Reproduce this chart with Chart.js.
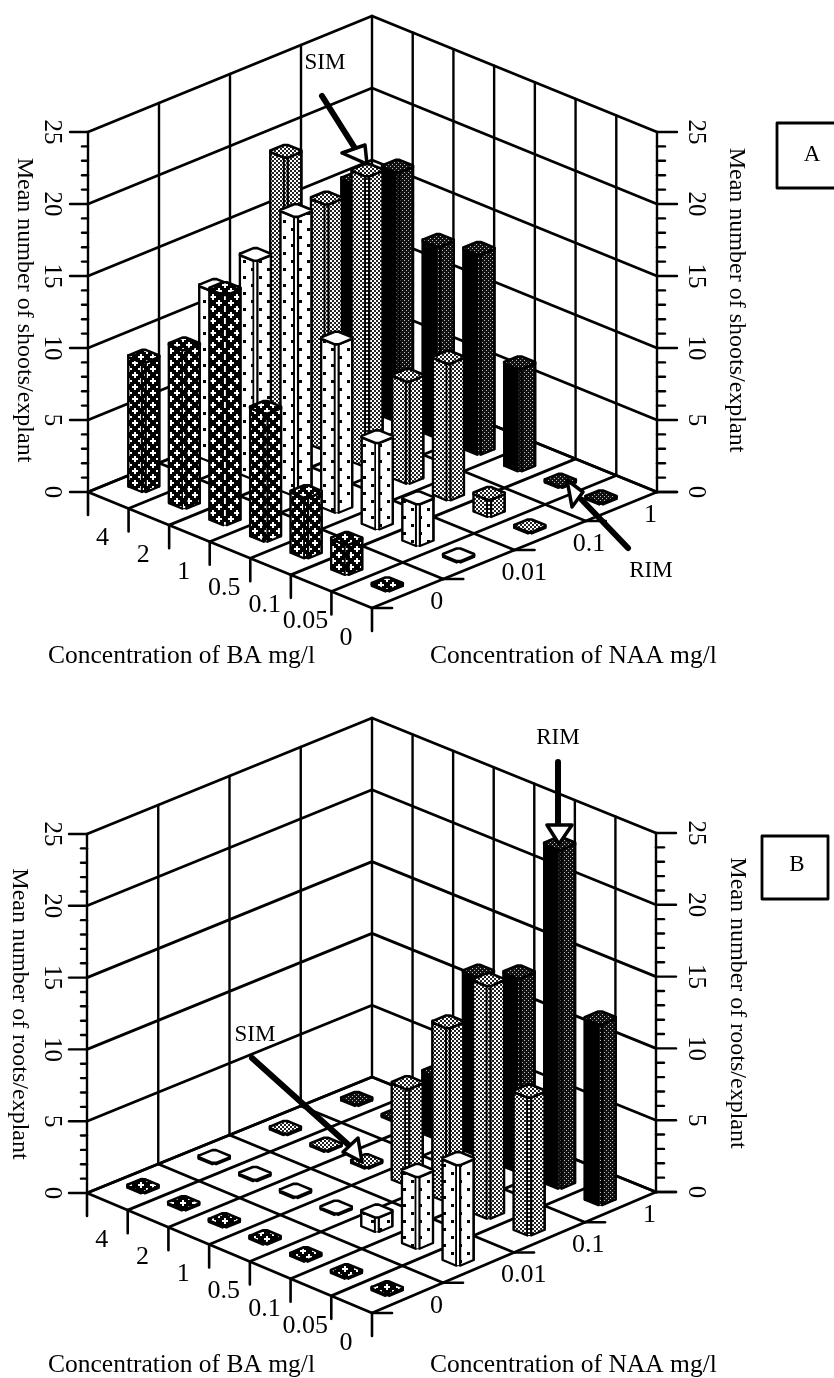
<!DOCTYPE html>
<html>
<head>
<meta charset="utf-8">
<title>Mean number of shoots and roots</title>
<script src="https://cdn.jsdelivr.net/npm/chart.js@4/dist/chart.umd.min.js"></script>
<style>
html, body { margin: 0; padding: 0; background: #fff; }
canvas { display: block; }
</style>
</head>
<body>
<canvas id="chart" width="834" height="1378"></canvas>
<script>
// categories
const baLabels = ['4', '2', '1', '0.5', '0.1', '0.05', '0'];
const naaLabels = ['0', '0.01', '0.1', '1'];
const valueTicks = [0, 5, 10, 15, 20, 25];

// panel A, shoots per explant, one array per NAA level, in baLabels order
const shootsNaa0 = [9, 11, 16, 8.9, 4.2, 2.1, 0.1];
const shootsNaa001 = [11.9, 15.2, 19.4, 11.7, 6, 2.9, 0.1];
const shootsNaa01 = [19.2, 17.1, 20.2, 7.1, 9.5, 1.2, 0.1];
const shootsNaa1 = [15.3, 17.3, 13.3, 13.9, 7.1, 0.1, 0.1];

// panel B, roots per explant
const rootsNaa0 = [0.1, 0.1, 0.1, 0.1, 0.1, 0.1, 0.1];
const rootsNaa001 = [0.1, 0.1, 0.1, 0.1, 1, 5, 7];
const rootsNaa01 = [0.1, 0.1, 0.1, 6.7, 12.1, 16.2, 9.6];
const rootsNaa1 = [0.1, 0.1, 4.3, 12.4, 13.5, 23.6, 12.6];

const FONT = '"Liberation Serif", serif';

const panels = [
    {
        name: 'A',
        rows: [shootsNaa0, shootsNaa001, shootsNaa01, shootsNaa1],
        yLabel: 'Mean number of shoots/explant',
        left: [88, 492], front: [372, 608], right: [657, 492], back: [372, 376],
        wall: 360,
        titleY: 656,
        yLabelLeft: [24, 310], yLabelRight: [736, 300],
        box: [777, 123, 62, 65], boxText: [812, 155],
        notes: [
            { text: 'SIM', at: [325, 63], shaft: [[322, 96], [358, 153]], head: [[342, 153], [365, 145], [367, 164]] },
            { text: 'RIM', at: [651, 571], shaft: [[628, 548], [582, 500]], head: [[567, 480], [583, 492], [572, 507]] }
        ]
    },
    {
        name: 'B',
        rows: [rootsNaa0, rootsNaa001, rootsNaa01, rootsNaa1],
        yLabel: 'Mean number of roots/explant',
        left: [87, 1193], front: [372, 1313], right: [656, 1192], back: [372, 1077],
        wall: 359,
        titleY: 1365,
        yLabelLeft: [19, 1014], yLabelRight: [737, 1003],
        box: [762, 836, 66, 63], boxText: [797, 865],
        notes: [
            { text: 'RIM', at: [558, 738], shaft: [[558, 762], [558, 826]], head: [[547, 825], [572, 825], [559, 844]] },
            { text: 'SIM', at: [255, 1035], shaft: [[252, 1058], [352, 1148]], head: [[343, 1152], [358, 1138], [362, 1162]] }
        ]
    }
];

function tile(w, h, paint) {
    const c = document.createElement('canvas');
    c.width = w;
    c.height = h;
    paint(c.getContext('2d'));
    return document.getElementById('chart').getContext('2d').createPattern(c, 'repeat');
}

function dotsAt(ctx, color, list, size) {
    ctx.fillStyle = color;
    list.forEach(p => ctx.fillRect(p[0], p[1], size, size));
}

const crossFill = tile(12, 12, ctx => {
    ctx.fillStyle = '#000';
    ctx.fillRect(0, 0, 12, 12);
    ctx.fillStyle = '#fff';
    [[3, 3], [9, 9]].forEach(p => {
        ctx.fillRect(p[0] - 3, p[1] - 1, 6, 2);
        ctx.fillRect(p[0] - 1, p[1] - 3, 2, 6);
    });
});
const dotFill = tile(16, 16, ctx => {
    ctx.fillStyle = '#fff';
    ctx.fillRect(0, 0, 16, 16);
    dotsAt(ctx, '#000', [[3, 4], [11, 12]], 3);
});
const stippleFill = tile(4, 4, ctx => {
    ctx.fillStyle = '#fff';
    ctx.fillRect(0, 0, 4, 4);
    dotsAt(ctx, '#222', [[0, 0], [2, 2]], 2);
});
const darkFill = tile(4, 4, ctx => {
    ctx.fillStyle = '#111';
    ctx.fillRect(0, 0, 4, 4);
    dotsAt(ctx, '#bbb', [[0, 0], [2, 2]], 1);
});

// fills per NAA level: left side of the column, right side, cap
const faceFills = [
    { side: crossFill, lit: crossFill, cap: crossFill },
    { side: dotFill, lit: dotFill, cap: '#fff' },
    { side: stippleFill, lit: stippleFill, cap: stippleFill },
    { side: '#000', lit: darkFill, cap: darkFill }
];

const datasets = [];

function addPath(points, style) {
    datasets.push({
        data: points.map(p => ({ x: p[0], y: p[1] })),
        showLine: true,
        tension: 0,
        pointRadius: 0,
        borderColor: '#000',
        borderWidth: style.width || 2,
        borderJoinStyle: 'round',
        borderCapStyle: 'round',
        fill: style.fill ? 'shape' : false,
        backgroundColor: style.fill || 'transparent',
        order: -datasets.length
    });
}

function closed(points) {
    return points.concat([points[0]]);
}

// floor position, i along BA cells (0..7), j along NAA cells (0..4)
function floorAt(panel, i, j) {
    const u = i / baLabels.length;
    const v = j / naaLabels.length;
    return [0, 1].map(k =>
        (1 - u) * (1 - v) * panel.left[k] + u * (1 - v) * panel.front[k] +
        u * v * panel.right[k] + (1 - u) * v * panel.back[k]);
}

function raise(panel, p, value) {
    return [p[0], p[1] - value * panel.wall / 25];
}

function addFrame(panel) {
    const nBa = baLabels.length;
    const nNaa = naaLabels.length;

    // back walls
    for (let j = 0; j <= nNaa; j++) {
        const p = floorAt(panel, 0, j);
        addPath([p, raise(panel, p, 25)], { width: 2.4 });
    }
    for (let i = 1; i <= nBa; i++) {
        const p = floorAt(panel, i, nNaa);
        addPath([p, raise(panel, p, 25)], { width: 2.4 });
    }
    valueTicks.forEach(v => {
        addPath([raise(panel, floorAt(panel, 0, 0), v), raise(panel, floorAt(panel, 0, nNaa), v),
            raise(panel, floorAt(panel, nBa, nNaa), v)], { width: 2.8 });
    });

    // floor grid
    for (let i = 0; i <= nBa; i++) {
        addPath([floorAt(panel, i, 0), floorAt(panel, i, nNaa)], { width: 2.8 });
    }
    for (let j = 0; j <= nNaa; j++) {
        addPath([floorAt(panel, 0, j), floorAt(panel, nBa, j)], { width: 2.8 });
    }

    // ticks on the value axes, one per unit
    const l = floorAt(panel, 0, 0);
    const r = floorAt(panel, nBa, nNaa);
    for (let v = 0; v <= 25; v++) {
        const major = v % 5 === 0;
        const a = raise(panel, l, v);
        const b = raise(panel, r, v);
        addPath([a, [a[0] - (major ? 18 : 6), a[1]]], { width: 2.4 });
        addPath([b, [b[0] + (major ? 20 : 8), b[1]]], { width: 2.4 });
    }

    // ticks on the floor edges
    for (let i = 0; i <= nBa; i++) {
        const p = floorAt(panel, i, 0);
        addPath([p, [p[0], p[1] + 23]], { width: 2.6 });
    }
    for (let j = 0; j <= nNaa; j++) {
        const p = floorAt(panel, nBa, j);
        addPath([p, [p[0] + 20, p[1]]], { width: 2.6 });
    }
}

// octagonal column standing in the middle of cell i, j
function addColumn(panel, i, j, value) {
    const fills = faceFills[j];
    const c = 0.22, s = 0.215, t = 0.122;
    const ring = [[-1, -1 + c], [-1 + c, -1], [1 - c, -1], [1, -1 + c], [1, 1 - c], [1 - c, 1], [-1 + c, 1], [-1, 1 - c]];
    const base = ring.map(q => floorAt(panel, i + 0.5 + q[0] * s, j + 0.5 + q[1] * t));
    const top = base.map(p => raise(panel, p, value));
    const faces = ['#000', fills.side, fills.lit, fills.lit, '#000'];
    faces.forEach((fill, k) => {
        addPath(closed([base[k], base[k + 1], top[k + 1], top[k]]), { fill: fill, width: k === 2 ? 1 : 2.2 });
    });
    addPath(closed(top), { fill: fills.cap, width: 2.6 });
}

function addNotes(panel) {
    panel.notes.forEach(note => {
        addPath(note.shaft, { width: 6 });
        addPath(closed(note.head), { fill: '#fff', width: 3.5 });
    });
}

panels.forEach(panel => {
    addFrame(panel);
    // back corner first, front corner last
    const cells = [];
    panel.rows.forEach((row, j) => row.forEach((value, i) => cells.push({ i, j, value })));
    cells.sort((a, b) => (a.i - a.j) - (b.i - b.j));
    cells.forEach(cell => addColumn(panel, cell.i, cell.j, cell.value));
    addNotes(panel);
    const b = panel.box;
    addPath(closed([[b[0], b[1]], [b[0] + b[2], b[1]], [b[0] + b[2], b[1] + b[3]], [b[0], b[1] + b[3]]]), { width: 2.8 });
});

const labelPlugin = {
    id: 'labelPlugin',
    afterDraw(chart) {
        const ctx = chart.ctx;
        const px = v => chart.scales.x.getPixelForValue(v);
        const py = v => chart.scales.y.getPixelForValue(v);

        function text(str, x, y, size, align, angle) {
            ctx.save();
            ctx.translate(px(x), py(y));
            ctx.rotate(angle || 0);
            ctx.font = size + 'px ' + FONT;
            ctx.fillStyle = '#000';
            ctx.textAlign = align || 'center';
            ctx.textBaseline = 'middle';
            ctx.fillText(str, 0, 0);
            ctx.restore();
        }

        panels.forEach(panel => {
            const nBa = baLabels.length;
            const nNaa = naaLabels.length;
            const l = floorAt(panel, 0, 0);
            const r = floorAt(panel, nBa, nNaa);

            valueTicks.forEach(v => {
                text(String(v), 52, raise(panel, l, v)[1], 25, 'center', Math.PI / 2);
                text(String(v), 696, raise(panel, r, v)[1], 25, 'center', Math.PI / 2);
            });
            text(panel.yLabel, panel.yLabelLeft[0], panel.yLabelLeft[1], 24, 'center', Math.PI / 2);
            text(panel.yLabel, panel.yLabelRight[0], panel.yLabelRight[1], 24, 'center', Math.PI / 2);

            baLabels.forEach((label, i) => {
                const p = floorAt(panel, i + 1, 0);
                text(label, p[0] - 26, p[1] + 30, 26);
            });
            naaLabels.forEach((label, j) => {
                const p = floorAt(panel, nBa, j + 1);
                text(label, p[0] - 13, p[1] + 23, 26, 'left');
            });

            text('Concentration of BA mg/l', 48, panel.titleY, 25.5, 'left');
            text('Concentration of NAA mg/l', 430, panel.titleY, 25.5, 'left');

            panel.notes.forEach(note => text(note.text, note.at[0], note.at[1], 23));
            text(panel.name, panel.boxText[0], panel.boxText[1], 23);
        });
    }
};

new Chart(document.getElementById('chart').getContext('2d'), {
    type: 'scatter',
    data: { datasets: datasets },
    options: {
        responsive: false,
        animation: false,
        events: [],
        layout: { padding: 0 },
        scales: {
            x: { type: 'linear', min: 0, max: 834, display: false },
            y: { type: 'linear', min: 0, max: 1378, reverse: true, display: false }
        },
        plugins: {
            legend: { display: false },
            tooltip: { enabled: false },
            filler: { drawTime: 'beforeDatasetDraw' }
        }
    },
    plugins: [labelPlugin]
});
</script>
</body>
</html>
